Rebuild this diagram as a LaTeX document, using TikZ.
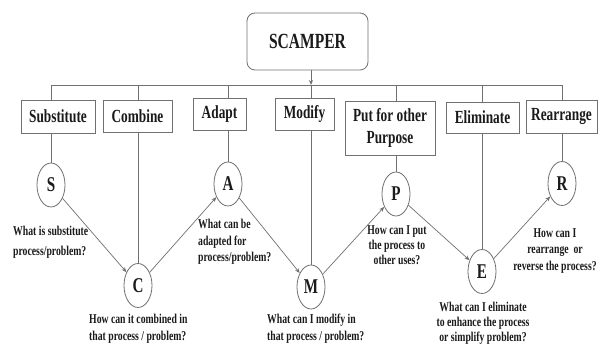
\documentclass[tikz,border=0pt]{standalone}
\usepackage{fontspec}
\newfontfamily\cond[FakeStretch=0.72]{Liberation Serif}
\usetikzlibrary{arrows.meta,shapes.geometric,backgrounds}
\definecolor{ln}{HTML}{707070}
\definecolor{tx}{HTML}{1A1A1A}
\begin{document}
\begin{tikzpicture}[x=1pt,y=-1pt,
  box/.style={draw=ln, line width=0.8pt, fill=white, inner sep=0pt, align=center, text=tx,
    font=\cond\bfseries\fontsize{18.5}{22}\selectfont},
  letter/.style={ellipse, draw=ln, line width=0.8pt, fill=white, minimum width=28pt,
    minimum height=44pt, inner sep=0pt, text=tx, font=\cond\bfseries\fontsize{21}{21}\selectfont},
  conn/.style={draw=ln, line width=0.7pt},
  arr/.style={conn, -{Stealth[length=5pt,width=4pt]}},
  note/.style={inner sep=0pt, text=tx, font=\cond\bfseries\fontsize{13.5}{16.5}\selectfont},
  tight/.style={font=\cond\bfseries\fontsize{13.5}{15}\selectfont}]
\useasboundingbox (0,0) rectangle (598,347);

% top box
\node[box, rounded corners=8pt, minimum width=121pt, minimum height=57pt,
  font=\cond\bfseries\fontsize{21.6}{24}\selectfont] (scamper) at (307.5,41.5) {SCAMPER};

% category boxes
\node[box, minimum width=74pt, minimum height=33pt] (sub) at (58,116.5) {Substitute};
\node[box, minimum width=69pt, minimum height=32pt] (com) at (137.5,116) {Combine};
\node[box, minimum width=53pt, minimum height=32pt] (ada) at (219.5,114) {Adapt};
\node[box, minimum width=59pt, minimum height=32pt] (mod) at (304.5,114) {Modify};
\node[box, minimum width=90pt, minimum height=54pt] (put) at (390,128) {Put for other\\Purpose};
\node[box, minimum width=73pt, minimum height=31pt] (eli) at (482.5,117.5) {Eliminate};
\node[box, minimum width=71pt, minimum height=33pt] (rea) at (561.5,116.5) {Rearrange};

% letters
\node[letter] (S) at (51,185) {S};
\node[letter] (C) at (138,285.5) {C};
\node[letter] (A) at (228,184) {A};
\node[letter] (M) at (311,287) {M};
\node[letter] (P) at (396,194) {P};
\node[letter] (E) at (482,271.5) {E};
\node[letter] (R) at (562,183.5) {R};

\coordinate (bus) at (0,85);

\begin{pgfonlayer}{background}
  \draw[conn] (S |- bus) -- (R |- bus);
  \foreach \n in {S,C,A,M,P,E,R} {
    \draw[conn] (\n |- bus) -- (\n.north);
  }
\end{pgfonlayer}

\draw[arr] (scamper.south -| M) -- (M |- bus);

% zigzag arrows
\draw[arr] (S) -- (C);
\draw[arr] (C) -- (A);
\draw[arr] (A) -- (M);
\draw[arr] (M) -- (P);
\draw[arr] (P) -- (E);
\draw[arr] (E) -- (R);

% notes
\node[note, anchor=north west, align=left, font=\cond\bfseries\fontsize{13.5}{19.5}\selectfont] (nS) at (13,226) {What is substitute\\process/problem?};
\node[note, anchor=north west, align=left] (nC) at (89,314) {How can it combined in\\that process / problem?};
\node[note, anchor=north west, align=left] (nA) at (198,219) {What can be\\adapted for\\process/problem?};
\node[note, anchor=north west, align=left] (nM) at (267,314) {What can I modify in\\that process / problem?};
\node[note, tight, anchor=north, align=center] (nP) at (397,225) {How can I put\\the process to\\other uses?};
\node[note, tight, anchor=north, align=center] (nE) at (483,302) {What can I eliminate\\to enhance the process\\or simplify problem?};
\node[note, anchor=north, align=center] (nR) at (555,228) {How can I\\rearrange~~or\\reverse the process?};
\end{tikzpicture}
\end{document}
